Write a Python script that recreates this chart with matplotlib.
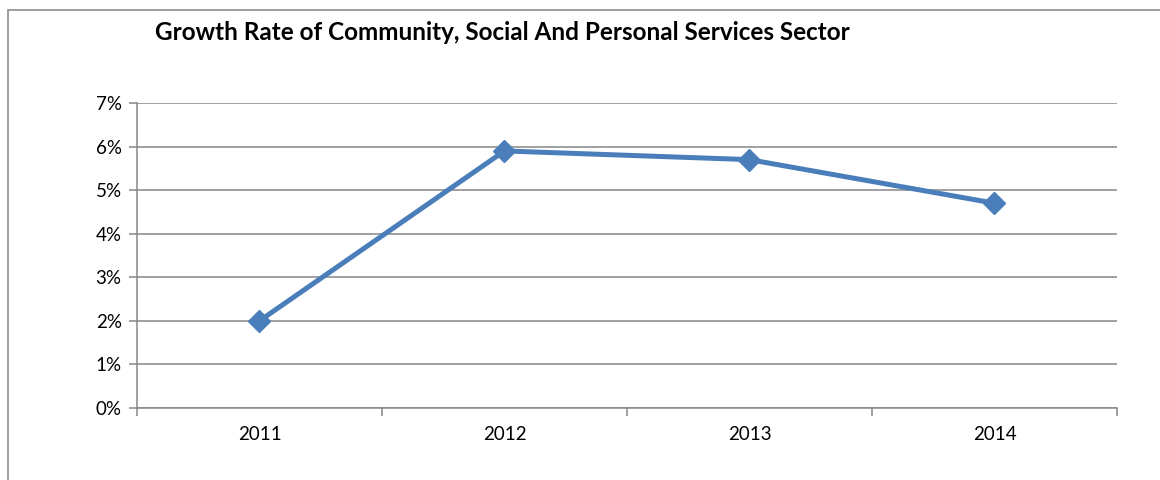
import matplotlib
matplotlib.use("Agg")
import matplotlib.pyplot as plt
from matplotlib.patches import Rectangle
from matplotlib.ticker import FixedLocator, NullFormatter

plt.rcParams['font.family'] = ['Lato', 'DejaVu Sans']

years = ["2011", "2012", "2013", "2014"]
growth = [2.0, 5.9, 5.7, 4.7]
y_ticks = [0, 1, 2, 3, 4, 5, 6, 7]
y_labels = ["0%", "1%", "2%", "3%", "4%", "5%", "6%", "7%"]

LINE = "#4a7ebb"
GRID = "#868686"

fig = plt.figure(figsize=(11.6, 4.8), dpi=100)
ax = fig.add_axes([0.1181, 0.15, 0.8448, 0.6354])

# outer chart border (runs off the right/bottom edges)
fig.patches.append(Rectangle((8 / 1160, -0.1), 1.2, 1 - 10 / 480 + 0.1,
                             transform=fig.transFigure, fill=False,
                             edgecolor="#8c8c8c", linewidth=1.2))

x = list(range(len(years)))
ax.plot(x, growth, color=LINE, linewidth=3.6, marker="D", markersize=11.5,
        markerfacecolor=LINE, markeredgecolor=LINE, zorder=3)

ax.set_xlim(-0.5, len(years) - 0.5)
ax.set_ylim(0, 7)
ax.set_yticks(y_ticks)
ax.set_yticklabels(y_labels, fontsize=13.5)
ax.yaxis.grid(True, color=GRID, linewidth=1.1)
ax.set_axisbelow(True)

# category labels centred, tick marks on the boundaries
ax.xaxis.set_major_locator(FixedLocator([i - 0.5 for i in range(len(years) + 1)]))
ax.xaxis.set_major_formatter(NullFormatter())
ax.xaxis.set_minor_locator(FixedLocator(x))
ax.set_xticklabels(years, minor=True, fontsize=13.5)
ax.tick_params(axis="x", which="minor", length=0, pad=13)
ax.tick_params(axis="x", which="major", length=6, color=GRID, width=1.1)
ax.tick_params(axis="y", length=6, color=GRID, width=1.1, pad=5)

for side in ["top", "right"]:
    ax.spines[side].set_visible(False)
for side in ["left", "bottom"]:
    ax.spines[side].set_color(GRID)
    ax.spines[side].set_linewidth(1.1)

fig.text(155 / 1160, 1 - 32 / 480, "Growth Rate of Community, Social And Personal Services Sector",
         fontsize=17.5, fontweight="bold", ha="left", va="center")

fig.savefig("out.png", dpi=100)
